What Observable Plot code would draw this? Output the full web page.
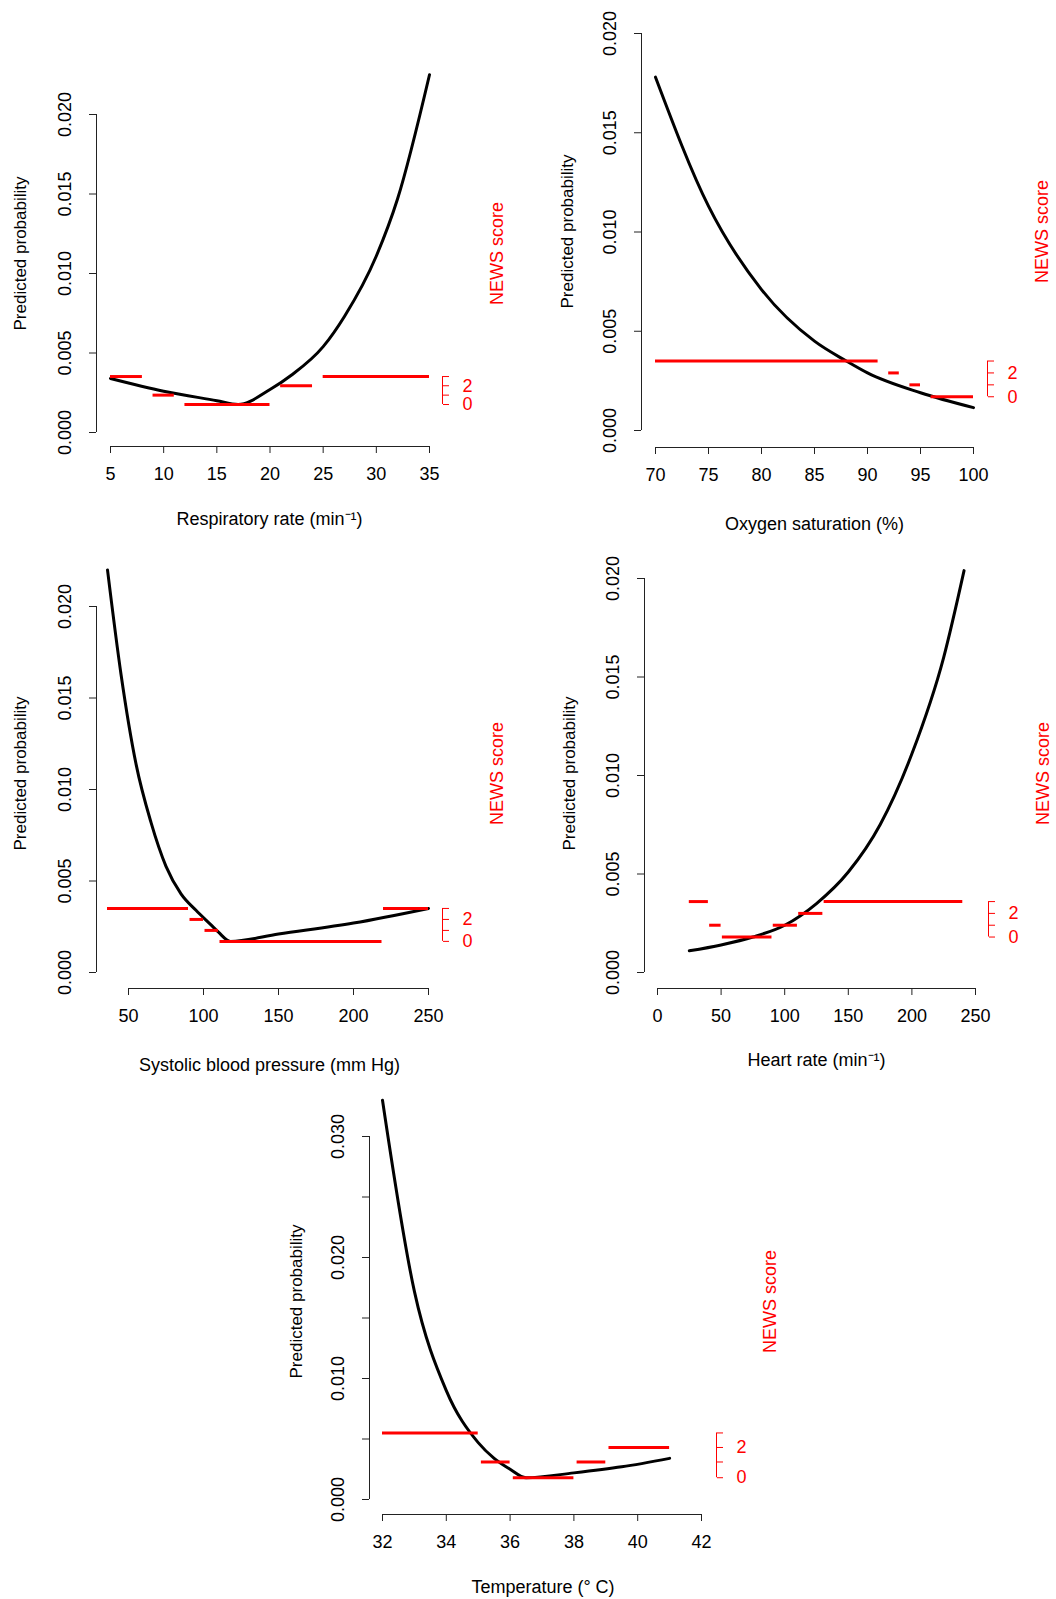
<!DOCTYPE html>
<html>
<head>
<meta charset="utf-8">
<script src="https://cdn.jsdelivr.net/npm/d3@7"></script>
<script src="https://cdn.jsdelivr.net/npm/@observablehq/plot@0.6"></script>
<style>
  body { margin: 0; background: #fff; }
  #chart { position: relative; width: 1056px; height: 1599px; }
  #chart svg { position: absolute; left: 0; top: 0; }
</style>
</head>
<body>
<div id="chart"></div>
<script>
// --- data ---
// respiratory rate
const rrX = [5, 10, 15, 17, 20, 22, 25, 27, 30, 32, 35];
const rrY = [0.0034, 0.0026, 0.0020, 0.00176, 0.0027, 0.0036, 0.0054, 0.0073, 0.0111, 0.0147, 0.0225];
const rrLevels = [0.00176, 0.00235, 0.00294, 0.00352];
const rrSegStart = [5, 9, 12, 21, 25];
const rrSegEnd = [8, 11, 20, 24, 35];
const rrSegScore = [3, 1, 0, 2, 3];

// oxygen saturation
const spX = [70, 75, 80, 85, 88, 90, 95, 100];
const spY = [0.0178, 0.0113, 0.0071, 0.0045, 0.0035, 0.0029, 0.0019, 0.00115];
const spLevels = [0.0017, 0.0023, 0.0029, 0.0035];
const spSegStart = [70, 92, 94, 96];
const spSegEnd = [91, 93, 95, 100];
const spSegScore = [3, 2, 1, 0];

// systolic blood pressure
const sbpX = [36, 45, 55, 65, 75, 85, 95, 105, 110, 118, 150, 200, 250];
const sbpY = [0.0220, 0.0163, 0.0114, 0.0082, 0.0058, 0.0043, 0.0034, 0.0026, 0.0022, 0.0017, 0.0021, 0.0027, 0.0035];
const sbpLevels = [0.0017, 0.0023, 0.0029, 0.0035];
const sbpSegStart = [36, 91, 101, 111, 220];
const sbpSegEnd = [90, 100, 110, 219, 250];
const sbpSegScore = [3, 2, 1, 0, 3];

// heart rate
const hrX = [25, 50, 75, 100, 125, 150, 175, 200, 225, 241];
const hrY = [0.0011, 0.0014, 0.0018, 0.0024, 0.0035, 0.0051, 0.0075, 0.0111, 0.0160, 0.0204];
const hrLevels = [0.0018, 0.0024, 0.0030, 0.0036];
const hrSegStart = [25, 41, 51, 91, 111, 131];
const hrSegEnd = [40, 50, 90, 110, 130, 240];
const hrSegScore = [3, 1, 0, 1, 2, 3];

// temperature
const tX = [32, 33, 34, 35, 35.5, 36, 36.5, 38, 39.5, 41];
const tY = [0.0330, 0.0172, 0.0090, 0.0047, 0.0034, 0.0025, 0.0018, 0.0022, 0.0027, 0.0034];
const tLevels = [0.0018, 0.0031, 0.0043, 0.0055];
const tSegStart = [32, 35.1, 36.1, 38.1, 39.1];
const tSegEnd = [35, 36, 38, 39, 41];
const tSegScore = [3, 1, 0, 1, 2];

const yTicks02 = [0, 0.005, 0.010, 0.015, 0.020];
const yTicks03 = [0, 0.005, 0.010, 0.015, 0.020, 0.025, 0.030];

const red = "#ff0000";
const ink = "#222";

function panel(c) {
  const curve = c.cx.map((x, i) => ({x, y: c.cy[i]}));
  const segs = c.segStart.map((s, i) => ({x1: s, x2: c.segEnd[i], y: c.levels[c.segScore[i]]}));
  const xt = c.xticks, yt = c.yticks;
  return Plot.plot({
    width: 1056, height: 1599,
    marginLeft: c.left, marginRight: 1056 - c.right,
    marginTop: c.top, marginBottom: 1599 - c.bottom,
    style: {fontFamily: "Liberation Sans, Arial, sans-serif", fontSize: "16px", background: "transparent", overflow: "visible"},
    x: {domain: c.xdom, range: c.xr},
    y: {domain: c.ydom, range: c.yr},
    marks: [
      Plot.axisX(xt, {anchor: "bottom", tickSize: 7, tickPadding: 14, fontSize: 18, label: null, stroke: ink, fill: "#000"}),
      Plot.ruleY([0], {x1: xt[0], x2: xt[xt.length - 1], dy: c.bottom - c.yr[0], stroke: ink}),
      Plot.axisY(yt, {anchor: "left", tickSize: 7, tickFormat: () => "", label: null, stroke: ink}),
      Plot.ruleX([c.xdom[0]], {y1: yt[0], y2: yt[yt.length - 1], dx: c.left - c.xr[0], stroke: ink}),
      Plot.text(c.ylabels, {y: d => d, text: d => d.toFixed(3), rotate: -90, frameAnchor: "left", textAnchor: "middle", lineAnchor: "middle", dx: -31, fontSize: 18, fill: "#000"}),
      Plot.axisY(c.levels, {anchor: "right", tickSize: 6, tickFormat: () => "", label: null, stroke: red}),
      Plot.ruleX([c.xdom[1]], {y1: c.levels[0], y2: c.levels[3], dx: c.right - c.xr[1], stroke: red}),
      Plot.text([0, 2], {y: i => c.levels[i], text: i => String(i), frameAnchor: "right", dx: 20, textAnchor: "start", fill: red, fontSize: 18}),
      Plot.line(curve, {x: "x", y: "y", curve: "monotone-x", stroke: "#000", strokeWidth: 3}),
      Plot.ruleY(segs, {x1: "x1", x2: "x2", y: "y", stroke: red, strokeWidth: 3}),
      Plot.text(["NEWS score"], {frameAnchor: "right", dx: c.newsDx, rotate: -90, textAnchor: "middle", lineAnchor: "middle", fill: red, fontSize: 18}),
      Plot.text(["Predicted probability"], {frameAnchor: "left", dx: c.ylabDx, rotate: -90, textAnchor: "middle", lineAnchor: "middle", fontSize: 17, fill: "#000"}),
      Plot.text([c.xlabel], {frameAnchor: "bottom", dx: 0, dy: c.xlabDy, textAnchor: "middle", lineAnchor: "middle", fontSize: 18, fill: "#000"})
    ]
  });
}

const panels = [
  {cx: rrX, cy: rrY, levels: rrLevels, segStart: rrSegStart, segEnd: rrSegEnd, segScore: rrSegScore,
   xdom: [5, 35], xr: [110, 429], ydom: [0, 0.02], yr: [432, 114], left: 96, bottom: 446, right: 442, top: 60,
   xticks: [5, 10, 15, 20, 25, 30, 35], yticks: yTicks02, ylabels: yTicks02,
   xlabel: "Respiratory rate (min\u207B\u00B9)", xlabDy: 73, ylabDx: -76, newsDx: 55},
  {cx: spX, cy: spY, levels: spLevels, segStart: spSegStart, segEnd: spSegEnd, segScore: spSegScore,
   xdom: [70, 100], xr: [655, 973], ydom: [0, 0.02], yr: [430, 33], left: 641, bottom: 447, right: 987, top: 15,
   xticks: [70, 75, 80, 85, 90, 95, 100], yticks: yTicks02, ylabels: yTicks02,
   xlabel: "Oxygen saturation (%)", xlabDy: 77, ylabDx: -74, newsDx: 55},
  {cx: sbpX, cy: sbpY, levels: sbpLevels, segStart: sbpSegStart, segEnd: sbpSegEnd, segScore: sbpSegScore,
   xdom: [50, 250], xr: [128, 428], ydom: [0, 0.02], yr: [972, 606], left: 96, bottom: 988, right: 442, top: 558,
   xticks: [50, 100, 150, 200, 250], yticks: yTicks02, ylabels: yTicks02,
   xlabel: "Systolic blood pressure (mm Hg)", xlabDy: 77, ylabDx: -76, newsDx: 55},
  {cx: hrX, cy: hrY, levels: hrLevels, segStart: hrSegStart, segEnd: hrSegEnd, segScore: hrSegScore,
   xdom: [0, 250], xr: [657, 975], ydom: [0, 0.02], yr: [972, 578], left: 644, bottom: 988, right: 988, top: 558,
   xticks: [0, 50, 100, 150, 200, 250], yticks: yTicks02, ylabels: yTicks02,
   xlabel: "Heart rate (min\u207B\u00B9)", xlabDy: 72, ylabDx: -75, newsDx: 55},
  {cx: tX, cy: tY, levels: tLevels, segStart: tSegStart, segEnd: tSegEnd, segScore: tSegScore,
   xdom: [32, 42], xr: [382, 701], ydom: [0, 0.03], yr: [1499, 1136], left: 369, bottom: 1514, right: 716, top: 1088,
   xticks: [32, 34, 36, 38, 40, 42], yticks: yTicks03, ylabels: [0, 0.010, 0.020, 0.030],
   xlabel: "Temperature (\u00B0 C)", xlabDy: 73, ylabDx: -73, newsDx: 54}
];

const root = d3.select("#chart");
panels.forEach(c => root.append(() => panel(c)));
</script>
</body>
</html>
